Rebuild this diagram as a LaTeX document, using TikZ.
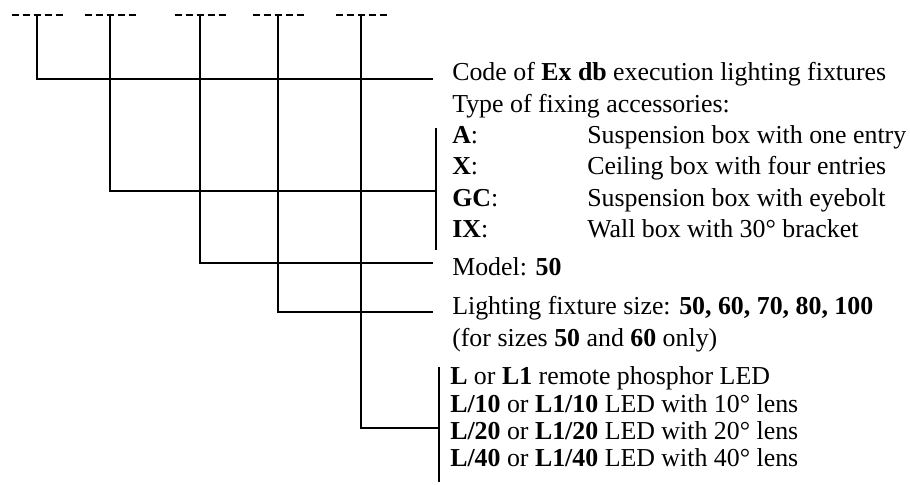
\documentclass[tikz,border=0pt]{standalone}
\usepackage{fontspec}
\setmainfont{Liberation Serif}
\begin{document}
\begin{tikzpicture}[x=0.75pt,y=-0.75pt,
  leg/.style={line width=1.7pt},
  brk/.style={line width=1.1pt},
  slot/.style={line width=1.7pt, dash pattern=on 5.25pt off 3pt},
  lbl/.style={anchor=west, inner sep=0pt, font=\fontsize{19.4}{22}\selectfont, text height=0.7em, text depth=0.2em}]
\useasboundingbox (0,0) rectangle (910,485);
% top slots
\coordinate (t1) at (37,14.7);
\coordinate (t2) at (110,14.7);
\coordinate (t3) at (200,14.7);
\coordinate (t4) at (278,14.7);
\coordinate (t5) at (361,14.7);
\foreach \t in {t1,t2,t3,t4,t5}{\draw[slot] (\t) +(-25.5,0) -- +(25.5,0);}
% labels
\node[lbl] (code) at (452,77) {Code of \textbf{Ex db} execution lighting fixtures};
\node[lbl] (type) at (452,109) {Type of fixing accessories:};
\node[lbl] (ka) at (452,140) {\textbf{A}:};
\node[lbl] (kx) at (452,171) {\textbf{X}:};
\node[lbl] (kgc) at (452,203) {\textbf{GC}:};
\node[lbl] (kix) at (452,234) {\textbf{IX}:};
\node[lbl] (da) at (587,140) {Suspension box with one entry};
\node[lbl] (dx) at (587,171) {Ceiling box with four entries};
\node[lbl] (dgc) at (587,203) {Suspension box with eyebolt};
\node[lbl] (dix) at (587,234) {Wall box with 30° bracket};
\node[lbl] (model) at (452,272) {Model: \textbf{50}};
\node[lbl] (size) at (452,311) {Lighting fixture size: \textbf{50, 60, 70, 80, 100}};
\node[lbl] (only) at (452,343) {(for sizes \textbf{50} and \textbf{60} only)};
\node[lbl] (l0) at (450,381) {\textbf{L} or \textbf{L1} remote phosphor LED};
\node[lbl] (l10) at (450,409) {\textbf{L/10} or \textbf{L1/10} LED with 10° lens};
\node[lbl] (l20) at (450,436) {\textbf{L/20} or \textbf{L1/20} LED with 20° lens};
\node[lbl] (l40) at (450,463) {\textbf{L/40} or \textbf{L1/40} LED with 40° lens};
% line ends
\coordinate (e1) at (433,79);
\coordinate (e3) at (433,263);
\coordinate (e4) at (433,312);
% brackets
\coordinate (b2a) at (436,128);
\coordinate (b2b) at (436,250);
\coordinate (j2) at (436,191);
\coordinate (b5a) at (439,367);
\coordinate (b5b) at (439,482);
\coordinate (j5) at (439,428);
\draw[brk] (b2a) -- (b2b);
\draw[brk] (b5a) -- (b5b);
% legs
\draw[leg] (t1) |- (e1);
\draw[leg] (t2) |- (j2);
\draw[leg] (t3) |- (e3);
\draw[leg] (t4) |- (e4);
\draw[leg] (t5) |- (j5);
\end{tikzpicture}
\end{document}
